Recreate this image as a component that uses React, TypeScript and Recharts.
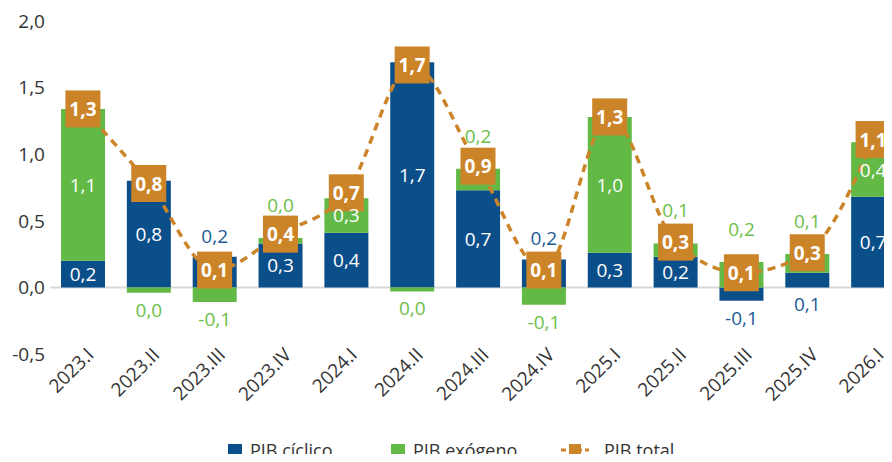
import React from "react";
import {
  ComposedChart,
  Bar,
  Line,
  XAxis,
  YAxis,
  CartesianGrid,
  Legend,
  LabelList,
} from "recharts";

const quarters = [
  "2023.I", "2023.II", "2023.III", "2023.IV",
  "2024.I", "2024.II", "2024.III", "2024.IV",
  "2025.I", "2025.II", "2025.III", "2025.IV",
  "2026.I",
];
const pibCiclico = [0.2, 0.8, 0.23, 0.33, 0.41, 1.69, 0.73, 0.21, 0.26, 0.23, -0.1, 0.11, 0.68];
const pibExogeno = [1.14, -0.04, -0.11, 0.04, 0.26, -0.03, 0.16, -0.13, 1.02, 0.1, 0.19, 0.14, 0.41];
const pibTotal = [1.34, 0.78, 0.13, 0.4, 0.71, 1.67, 0.91, 0.13, 1.28, 0.34, 0.11, 0.26, 1.11];
const yTicks = [-0.5, 0, 0.5, 1, 1.5, 2];

// where each segment's value label sits: in the bar, above it or below it
const ciclicoLabelPos = ["in", "in", "up", "in", "in", "in", "in", "up", "in", "in", "down", "down", "in"];
const exogenoLabelPos = ["in", "down", "down", "up", "in", "down", "up", "down", "in", "up", "up", "up", "in"];

const BLUE = "#0b4f8a";
const GREEN = "#62b946";
const ORANGE = "#cc8428";
const FONT = "'Open Sans', sans-serif";

const data = quarters.map((q, i) => ({
  quarter: q,
  ciclico: pibCiclico[i],
  exogeno: pibExogeno[i],
  total: pibTotal[i],
}));

const fmt = (v: number) => {
  const r = Math.round(v * 10) / 10;
  return (r === 0 ? 0 : r).toFixed(1).replace(".", ",");
};

const segLabel =
  (values: number[], positions: string[], color: string, upGap: number) =>
  (props: any) => {
    const { x, y, width, height, index } = props;
    const top = Math.min(y, y + height);
    const bottom = Math.max(y, y + height);
    const pos = positions[index];
    let cy = (top + bottom) / 2;
    let fill = "#fff";
    if (pos === "up") {
      cy = top - upGap;
      fill = color;
    } else if (pos === "down") {
      cy = bottom + 17;
      fill = color;
    }
    return (
      <text
        key={`lbl-${index}`}
        x={x + width / 2}
        y={cy}
        textAnchor="middle"
        dominantBaseline="central"
        fontSize={19}
        fontFamily={FONT}
        fill={fill}
      >
        {fmt(values[index])}
      </text>
    );
  };

const TotalDot = (props: any) => {
  const { cx, cy, index } = props;
  return (
    <g key={`dot-${index}`}>
      <rect x={cx - 17.5} y={cy - 18.5} width={35} height={37} fill={ORANGE} />
      <text
        x={cx}
        y={cy}
        textAnchor="middle"
        dominantBaseline="central"
        fontSize={19}
        fontWeight="bold"
        fontFamily={FONT}
        fill="#fff"
      >
        {fmt(pibTotal[index])}
      </text>
    </g>
  );
};

const QuarterTick = (props: any) => {
  const { x, y, payload } = props;
  const ax = x + 12;
  const ay = y + 2;
  return (
    <text
      x={ax}
      y={ay}
      textAnchor="end"
      fontSize={19}
      fontFamily={FONT}
      fill="#333"
      transform={`rotate(-45, ${ax}, ${ay})`}
    >
      {payload.value}
    </text>
  );
};

const LegendBox = () => (
  <div style={{ position: "relative", width: 892, height: 24, fontFamily: FONT, fontSize: 18, color: "#333" }}>
    <span style={{ position: "absolute", left: 228, top: 8, width: 14, height: 13, background: BLUE }} />
    <span style={{ position: "absolute", left: 250, top: 2, lineHeight: "24px" }}>PIB cíclico</span>
    <span style={{ position: "absolute", left: 391, top: 8, width: 14, height: 13, background: GREEN }} />
    <span style={{ position: "absolute", left: 413, top: 2, lineHeight: "24px" }}>PIB exógeno</span>
    <svg style={{ position: "absolute", left: 561, top: 7 }} width={28} height={14}>
      <line x1={0} y1={7} x2={28} y2={7} stroke={ORANGE} strokeWidth={3} strokeDasharray="5 3" />
      <rect x={8} y={1} width={12} height={12} fill={ORANGE} />
    </svg>
    <span style={{ position: "absolute", left: 604, top: 2, lineHeight: "24px" }}>PIB total</span>
  </div>
);

export default function App() {
  return (
    <div style={{ margin: -8, width: 892, height: 462, overflow: "hidden", background: "#fff" }}>
      <ComposedChart
        width={906}
        height={462}
        data={data}
        stackOffset="sign"
        margin={{ top: 21, right: 0, bottom: 0, left: 5 }}
      >
        <CartesianGrid horizontal vertical={false} horizontalValues={[0]} stroke="#d9d9d9" strokeWidth={2} />
        <XAxis
          dataKey="quarter"
          interval={0}
          axisLine={false}
          tickLine={false}
          tickSize={0}
          tickMargin={0}
          height={84}
          tick={<QuarterTick />}
        />
        <YAxis
          domain={[-0.5, 2]}
          ticks={yTicks}
          tickFormatter={fmt}
          axisLine={false}
          tickLine={false}
          tickSize={0}
          tickMargin={5}
          width={45}
          tick={{ fontSize: 19, fill: "#333", fontFamily: FONT }}
        />
        <Legend
          verticalAlign="bottom"
          height={24}
          wrapperStyle={{ left: 0, top: 436, bottom: "auto", width: 892, height: 24 }}
          content={<LegendBox />}
        />
        <Bar dataKey="ciclico" stackId="a" fill={BLUE} barSize={44} isAnimationActive={false}>
          <LabelList content={segLabel(pibCiclico, ciclicoLabelPos, "#1d5b96", 21)} />
        </Bar>
        <Bar dataKey="exogeno" stackId="a" fill={GREEN} barSize={44} isAnimationActive={false}>
          <LabelList content={segLabel(pibExogeno, exogenoLabelPos, "#6cc04a", 33)} />
        </Bar>
        <Line
          dataKey="total"
          type="monotone"
          stroke={ORANGE}
          strokeWidth={3.5}
          strokeDasharray="8 6"
          dot={TotalDot}
          activeDot={false}
          isAnimationActive={false}
        />
      </ComposedChart>
    </div>
  );
}
